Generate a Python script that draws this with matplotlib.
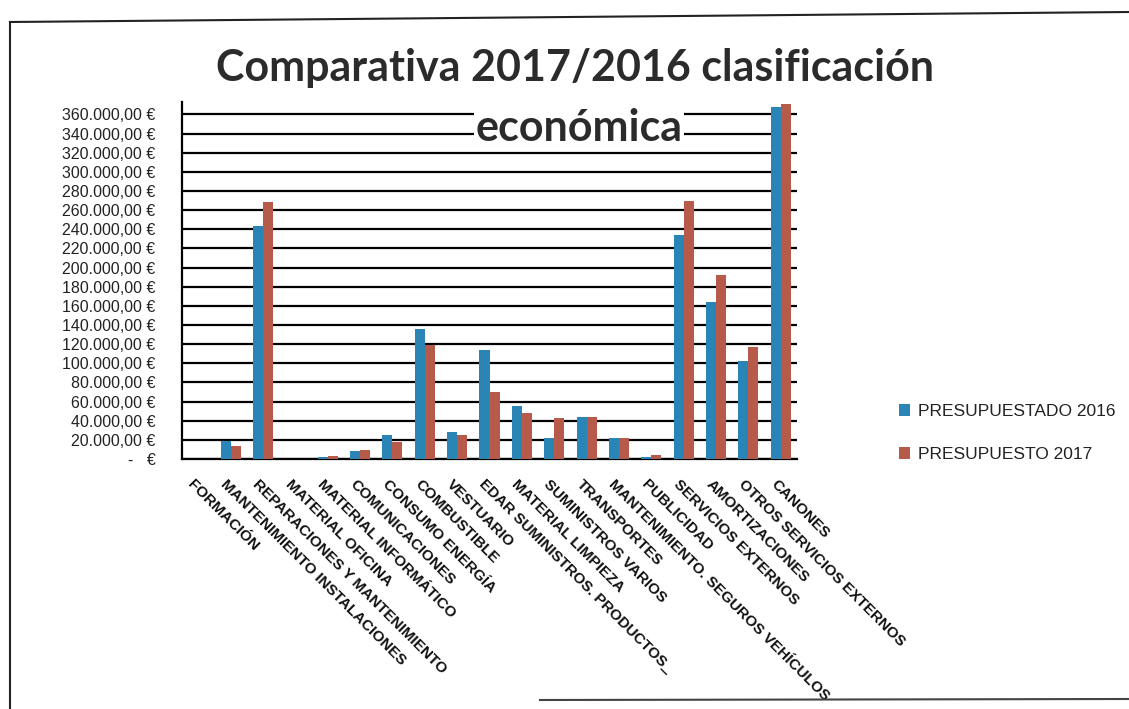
import matplotlib
matplotlib.use("Agg")
import matplotlib.pyplot as plt
import numpy as np
from matplotlib.lines import Line2D
from matplotlib.transforms import ScaledTranslation

categories = [
    "FORMACIÓN",
    "MANTENIMIENTO INSTALACIONES",
    "REPARACIONES Y MANTENIMIENTO",
    "MATERIAL OFICINA",
    "MATERIAL INFORMÁTICO",
    "COMUNICACIONES",
    "CONSUMO ENERGÍA",
    "COMBUSTIBLE",
    "VESTUARIO",
    "EDAR SUMINISTROS. PRODUCTOS_",
    "MATERIAL LIMPIEZA",
    "SUMINISTROS VARIOS",
    "TRANSPORTES",
    "MANTENIMIENTO. SEGUROS VEHÍCULOS",
    "PUBLICIDAD",
    "SERVICIOS EXTERNOS",
    "AMORTIZACIONES",
    "OTROS SERVICIOS EXTERNOS",
    "CANONES",
]
presupuestado_2016 = [0, 19000, 243000, 0, 2000, 8000, 25000, 136000, 28000, 114000,
                      55000, 22000, 44000, 22000, 2000, 234000, 164000, 102000, 368000]
presupuesto_2017 = [0, 14000, 268000, 0, 3000, 9000, 18000, 119000, 25000, 70000,
                    48000, 43000, 44000, 22000, 4000, 270000, 192000, 117000, 371000]
y_ticks = list(range(0, 360001, 20000))
series_names = ["PRESUPUESTADO 2016", "PRESUPUESTO 2017"]
title_line1 = "Comparativa 2017/2016 clasificación"
title_line2 = "económica"

BLUE = "#2a84b6"
RED = "#b65a4a"

W, H = 1129, 709
fig = plt.figure(figsize=(W / 100, H / 100), dpi=100)
fig.patch.set_facecolor("white")

ax = fig.add_axes([182 / W, 1 - 459 / H, (797 - 182) / W, (459 - 102) / H])

x = np.arange(len(categories))
bw = 0.31
b1 = ax.bar(x - bw / 2, presupuestado_2016, width=bw, color=BLUE, zorder=3)
b2 = ax.bar(x + bw / 2, presupuesto_2017, width=bw, color=RED, zorder=3)

ax.set_xlim(-0.5, len(categories) - 0.5)
ax.set_ylim(0, 373000)


def eur(v):
    if v == 0:
        return "-   €"
    s = f"{v:,.2f}".replace(",", "X").replace(".", ",").replace("X", ".")
    return s + " €"


ax.set_yticks(y_ticks)
ax.set_yticklabels([eur(v) for v in y_ticks], fontsize=11.5,
                   family=["Liberation Sans", "DejaVu Sans"], color="#222222")
ax.tick_params(axis="y", length=0, pad=19)
ax.yaxis.grid(True, color="black", linewidth=1.6)
ax.set_axisbelow(True)

ax.set_xticks(x)
ax.set_xticklabels(categories, rotation=-45, ha="left", va="top",
                   rotation_mode="anchor", fontsize=11, fontweight="bold",
                   family=["Liberation Sans", "DejaVu Sans"], color="#111111")
ax.tick_params(axis="x", length=0, pad=13)
offset = ScaledTranslation(-3 / 100, 0, fig.dpi_scale_trans)
for lbl in ax.get_xticklabels():
    lbl.set_transform(lbl.get_transform() + offset)

for s in ["top", "right"]:
    ax.spines[s].set_visible(False)
ax.spines["left"].set_color("black")
ax.spines["left"].set_linewidth(1.6)
ax.spines["bottom"].set_color("black")
ax.spines["bottom"].set_linewidth(1.6)

# titles
fig.text(575 / W, 1 - 68 / H, title_line1, ha="center", va="center",
         fontsize=31, fontweight="bold", family=["Lato", "DejaVu Sans"], color="#2b2b2b")
fig.text(579 / W, 1 - 128 / H, title_line2, ha="center", va="center",
         fontsize=31, fontweight="bold", family=["Lato", "DejaVu Sans"], color="#2b2b2b",
         bbox=dict(facecolor="white", edgecolor="none", pad=1), zorder=5)

# legend
leg = fig.legend([b1, b2], series_names, loc="center left",
                 bbox_to_anchor=(883 / W, 1 - 433 / H), frameon=False,
                 prop={"family": ["Liberation Sans", "DejaVu Sans"], "size": 12.5},
                 handlelength=0.65, handleheight=0.65, handletextpad=0.45,
                 labelspacing=1.6)
for t in leg.get_texts():
    t.set_color("#222222")

# page frame
fig.add_artist(Line2D([10 / W, 1.0], [1 - 22 / H, 1 - 12 / H], color="#222222", lw=1.5))
fig.add_artist(Line2D([10 / W, 10 / W], [1 - 22 / H, 0.0], color="#222222", lw=1.5))
fig.add_artist(Line2D([540 / W, 1.0], [1 - 700 / H, 1 - 699 / H], color="#444444", lw=1.5))

fig.savefig("out.png", dpi=100, facecolor="white")
